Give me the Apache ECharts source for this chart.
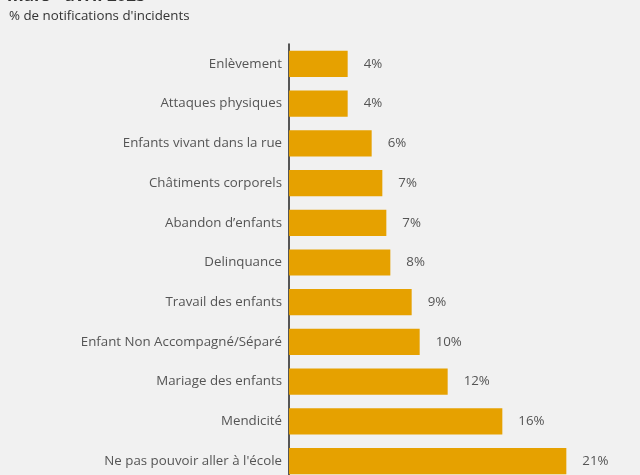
<!DOCTYPE html>
<html>
<head>
<meta charset="utf-8">
<style>
  html, body { margin: 0; padding: 0; background: #f1f1f1; overflow: hidden; }
  #chart { width: 640px; height: 490px; }
</style>
<script src="https://cdn.jsdelivr.net/npm/echarts@6/dist/echarts.min.js"></script>
</head>
<body>
<div id="chart"></div>
<script>
// Types d'incidents signalés, du moins au plus fréquent
const categories = [
  "Enlèvement",
  "Attaques physiques",
  "Enfants vivant dans la rue",
  "Châtiments corporels",
  "Abandon d’enfants",
  "Delinquance",
  "Travail des enfants",
  "Enfant Non Accompagné/Séparé",
  "Mariage des enfants",
  "Mendicité",
  "Ne pas pouvoir aller à l'école"
];
// Part des notifications d'incidents (%)
const shares = [4.4, 4.4, 6.2, 7.0, 7.3, 7.6, 9.2, 9.8, 11.9, 16.0, 20.8];

const titleText = "mars - avril 2023";
const subtitleText = "% de notifications d'incidents";

const font = "'Open Sans', 'Noto Sans', sans-serif";

const chart = echarts.init(document.getElementById("chart"), null, { renderer: "canvas" });
chart.setOption({
  backgroundColor: "#f1f1f1",
  animation: false,
  textStyle: { fontFamily: font },
  title: [
    {
      text: titleText,
      left: 2,
      top: -17.5,
      textStyle: { fontFamily: font, fontSize: 17, fontWeight: "bold", color: "#333" }
    },
    {
      text: subtitleText,
      left: 4,
      top: 5,
      textStyle: { fontFamily: font, fontSize: 13.3, fontWeight: "normal", color: "#333" }
    }
  ],
  grid: { left: 289, top: 44, width: 320, height: 437, containLabel: false },
  xAxis: {
    type: "value",
    min: 0,
    max: 24,
    show: false
  },
  yAxis: {
    type: "category",
    data: categories,
    inverse: true,
    axisLine: { show: true, lineStyle: { color: "#222", width: 1.5 } },
    axisTick: { show: false },
    axisLabel: { margin: 7, fontSize: 13.3, color: "#555", fontFamily: font },
    splitLine: { show: false }
  },
  series: [
    {
      type: "bar",
      data: shares,
      barCategoryGap: "34%",
      itemStyle: { color: "#e6a100" },
      label: {
        show: true,
        position: "right",
        distance: 16,
        fontSize: 13.3,
        color: "#555",
        fontFamily: font,
        formatter: p => Math.round(p.value) + "%"
      }
    }
  ]
});
</script>
</body>
</html>
